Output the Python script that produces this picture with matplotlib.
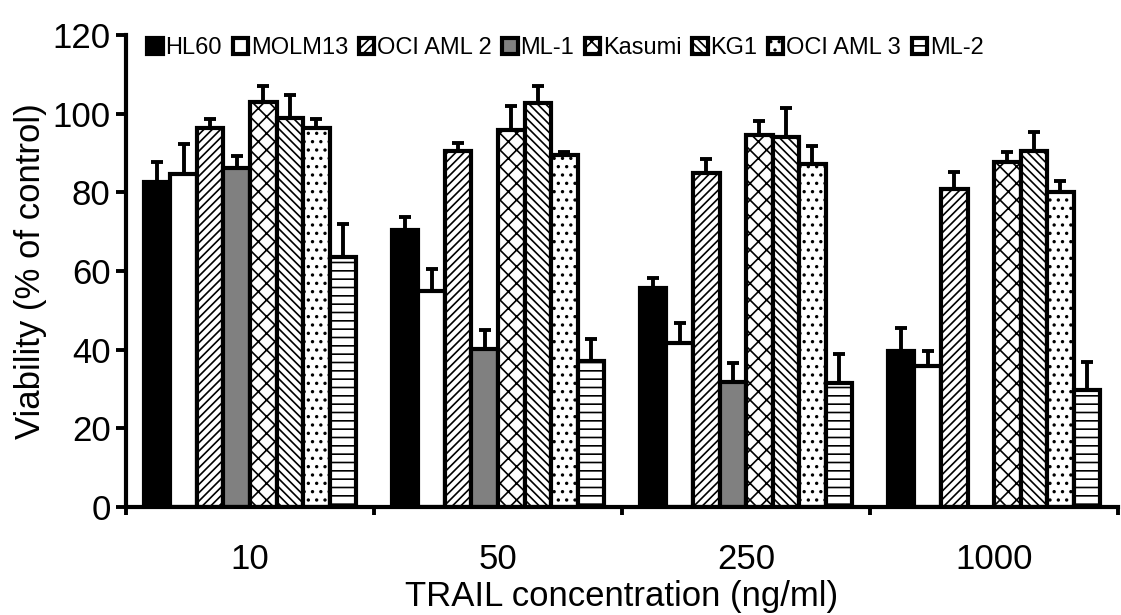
import numpy as np
import matplotlib
matplotlib.use("Agg")
import matplotlib.pyplot as plt

plt.rcParams["font.family"] = ["Liberation Sans", "DejaVu Sans"]
plt.rcParams["hatch.linewidth"] = 1.2

concentrations = ["10", "50", "250", "1000"]
cell_lines = ["HL60", "MOLM13", "OCI AML 2", "ML-1", "Kasumi", "KG1", "OCI AML 3", "ML-2"]

# viability (% of control), one list per cell line, ordered by concentration
viability = {
    "HL60":      [82.6, 70.4, 55.6, 39.7],
    "MOLM13":    [84.6, 54.9, 41.8, 35.9],
    "OCI AML 2": [96.4, 90.6, 84.8, 80.8],
    "ML-1":      [86.1, 40.3, 31.9, np.nan],
    "Kasumi":    [103.0, 95.9, 94.6, 87.6],
    "KG1":       [99.0, 102.8, 94.0, 90.6],
    "OCI AML 3": [96.4, 89.5, 87.1, 80.2],
    "ML-2":      [63.6, 37.1, 31.6, 29.7],
}
errors = {
    "HL60":      [5.2, 3.3, 2.7, 5.7],
    "MOLM13":    [7.7, 5.6, 4.9, 3.8],
    "OCI AML 2": [2.2, 2.0, 3.6, 4.5],
    "ML-1":      [3.1, 4.7, 4.6, np.nan],
    "Kasumi":    [4.0, 6.1, 3.6, 2.7],
    "KG1":       [5.8, 4.2, 7.4, 4.8],
    "OCI AML 3": [2.2, 0.8, 4.7, 2.8],
    "ML-2":      [8.3, 5.5, 7.2, 7.2],
}

styles = {
    "HL60":      dict(color="black", hatch=None),
    "MOLM13":    dict(color="white", hatch=None),
    "OCI AML 2": dict(color="white", hatch="////"),
    "ML-1":      dict(color="#808080", hatch=None),
    "Kasumi":    dict(color="white", hatch="xx"),
    "KG1":       dict(color="white", hatch="\\\\\\\\"),
    "OCI AML 3": dict(color="white", hatch=".."),
    "ML-2":      dict(color="white", hatch="--"),
}

fig = plt.figure(figsize=(11.21, 6.15), dpi=100)
ax = fig.add_axes([0.1124, 0.1756, 0.885, 0.7674])

x = np.arange(len(concentrations))
width = 0.107
for j, name in enumerate(cell_lines):
    pos = x + (j - 3.5) * width
    vals = np.array(viability[name])
    errs = np.array(errors[name])
    st = styles[name]
    ax.bar(pos, vals, width, color=st["color"], hatch=st["hatch"],
           edgecolor="black", linewidth=3, label=name, zorder=2)
    ax.errorbar(pos, vals, yerr=[np.zeros_like(errs), errs], fmt="none",
                ecolor="black", elinewidth=2.8, capsize=4.5, capthick=2.8, zorder=3)

ax.set_xlim(-0.5, 3.5)
ax.set_ylim(0, 120)
ax.set_yticks(range(0, 121, 20))
ax.set_xticks(np.arange(-0.5, 3.6, 1.0))
ax.set_xticklabels([])
ax.set_xticks(x, minor=True)
ax.set_xticklabels(concentrations, minor=True)
ax.tick_params(axis="x", which="minor", length=0, pad=26, labelsize=25)
ax.tick_params(axis="x", which="major", length=6, width=2.8, direction="out")
ax.tick_params(axis="y", length=7, width=2.8, direction="out", labelsize=25, pad=4)

for side in ("top", "right"):
    ax.spines[side].set_visible(False)
for side in ("left", "bottom"):
    ax.spines[side].set_linewidth(3)

ax.set_ylabel("Viability (% of control)", fontsize=25, labelpad=4)
ax.set_xlabel("TRAIL concentration (ng/ml)", fontsize=25, labelpad=3)

ax.legend(loc="upper left", bbox_to_anchor=(0.012, 1.015), ncol=8, frameon=False,
          fontsize=17, handlelength=0.65, handleheight=0.65, handletextpad=0.12,
          columnspacing=0.45, borderaxespad=0.0)

fig.savefig("out.png", dpi=100)
